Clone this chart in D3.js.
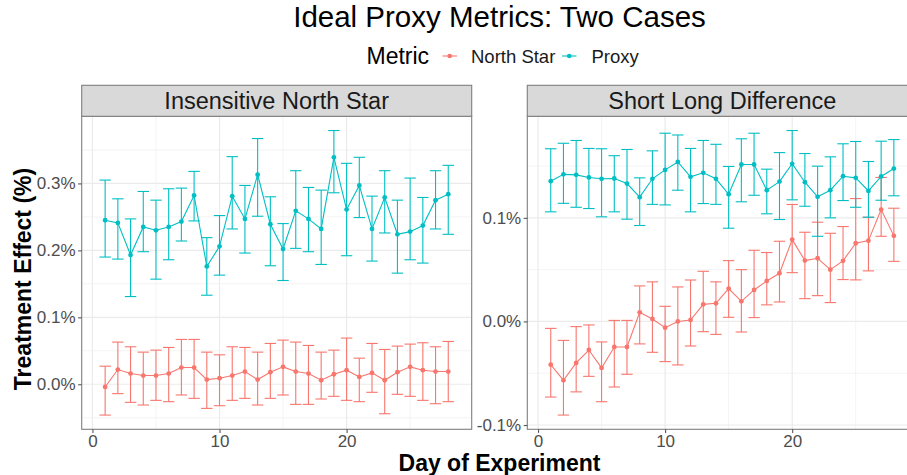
<!DOCTYPE html>
<html><head><meta charset="utf-8">
<script src="https://cdn.jsdelivr.net/npm/d3@7"></script>
<style>
html,body{margin:0;padding:0;background:#fff;}
svg{display:block;overflow:hidden;font-family:"Liberation Sans",Arial,Helvetica,sans-serif;}
</style></head>
<body><svg id="chart" width="907" height="475"></svg>
<script>
const days = [1,2,3,4,5,6,7,8,9,10,11,12,13,14,15,16,17,18,19,20,21,22,23,24,25,26,27,28];
const seriesNames = ["North Star","Proxy"];
const panelTitles = ["Insensitive North Star","Short Long Difference"];

const leftProxy   = [0.245,0.241,0.193,0.235,0.230,0.235,0.243,0.282,0.176,0.206,0.281,0.247,0.313,0.239,0.202,0.259,0.247,0.232,0.339,0.261,0.297,0.232,0.279,0.224,0.228,0.237,0.275,0.284];
const leftProxyLo = [0.190,0.187,0.131,0.198,0.157,0.186,0.214,0.244,0.133,0.163,0.232,0.196,0.251,0.177,0.155,0.203,0.198,0.179,0.286,0.192,0.249,0.184,0.226,0.166,0.186,0.181,0.232,0.224];
const leftProxyHi = [0.305,0.277,0.247,0.288,0.275,0.292,0.293,0.318,0.219,0.252,0.340,0.297,0.367,0.280,0.240,0.319,0.294,0.290,0.379,0.330,0.339,0.281,0.319,0.275,0.308,0.279,0.319,0.327];

const leftNS   = [-0.004,0.022,0.016,0.013,0.013,0.016,0.025,0.025,0.007,0.009,0.013,0.019,0.007,0.018,0.026,0.019,0.016,0.006,0.015,0.021,0.011,0.017,0.006,0.018,0.026,0.021,0.019,0.019];
const leftNSLo = [-0.046,-0.014,-0.027,-0.031,-0.024,-0.026,-0.016,-0.021,-0.036,-0.032,-0.024,-0.021,-0.031,-0.021,-0.016,-0.030,-0.030,-0.022,-0.018,-0.024,-0.026,-0.012,-0.044,-0.015,-0.018,-0.024,-0.029,-0.026];
const leftNSHi = [0.027,0.063,0.056,0.048,0.051,0.055,0.067,0.067,0.048,0.044,0.056,0.055,0.048,0.061,0.066,0.063,0.058,0.048,0.051,0.069,0.039,0.061,0.052,0.057,0.060,0.062,0.056,0.064];

const rightProxy   = [0.1354,0.142,0.1415,0.139,0.1377,0.138,0.1331,0.120,0.1377,0.1463,0.154,0.1396,0.1435,0.1377,0.1228,0.1515,0.1515,0.1267,0.135,0.1522,0.1344,0.1203,0.1267,0.1402,0.1386,0.126,0.140,0.1476];
const rightProxyLo = [0.1058,0.114,0.1102,0.109,0.101,0.1058,0.0987,0.0926,0.113,0.1125,0.1267,0.1058,0.1138,0.113,0.090,0.1155,0.1218,0.1039,0.0984,0.1174,0.1112,0.0822,0.100,0.1167,0.1102,0.1006,0.117,0.1213];
const rightProxyHi = [0.1667,0.172,0.1747,0.167,0.1667,0.160,0.166,0.1386,0.1647,0.1817,0.180,0.167,0.1747,0.171,0.1496,0.1763,0.1817,0.147,0.163,0.1843,0.1621,0.1499,0.1589,0.1715,0.1737,0.1544,0.174,0.1756];

const rightNS   = [-0.0417,-0.0569,-0.0401,-0.0276,-0.0449,-0.0247,-0.0247,0.0088,0.0024,-0.006,0.0,0.0014,0.0165,0.0175,0.0317,0.0194,0.0304,0.0391,0.0465,0.079,0.0588,0.061,0.050,0.0585,0.0755,0.078,0.108,0.0826];
const rightNSLo = [-0.073,-0.0904,-0.068,-0.053,-0.0775,-0.0633,-0.051,-0.0217,-0.0298,-0.0388,-0.042,-0.0237,-0.0099,-0.0125,0.004,-0.0102,0.0037,0.016,0.0188,0.0471,0.022,0.0249,0.0182,0.0404,0.0401,0.0488,0.0822,0.058];
const rightNSHi = [-0.0067,-0.0183,-0.005,-0.0034,-0.0198,0.001,0.001,0.0343,0.0382,0.0146,0.0333,0.040,0.0484,0.0382,0.0587,0.05,0.0687,0.0665,0.0774,0.1129,0.0861,0.0958,0.0851,0.0916,0.1186,0.1006,0.139,0.1093];

const xTicks = [0,10,20];
const xMinor = [5,15,25];
const leftYTicks = [0.0,0.1,0.2,0.3];
const leftYMinor = [-0.05,0.05,0.15,0.25,0.35];
const rightYTicks = [-0.1,0.0,0.1];
const rightYMinor = [-0.05,0.05,0.15];

const colors = {"North Star":"#F8766D","Proxy":"#00BFC4"};

const panels = [
  {title:panelTitles[0], x0:81.7, yTicks:leftYTicks, yMinor:leftYMinor,
   series:[{name:"North Star",v:leftNS,lo:leftNSLo,hi:leftNSHi},{name:"Proxy",v:leftProxy,lo:leftProxyLo,hi:leftProxyHi}]},
  {title:panelTitles[1], x0:527.3, yTicks:rightYTicks, yMinor:rightYMinor,
   series:[{name:"North Star",v:rightNS,lo:rightNSLo,hi:rightNSHi},{name:"Proxy",v:rightProxy,lo:rightProxyLo,hi:rightProxyHi}]}
];

const svg = d3.select("#chart");
const PW = 390, pTop = 116.3, pBottom = 429.3, stripTop = 85.3;
const capW = 0.9;

svg.append("text").attr("x",499.5).attr("y",27).attr("text-anchor","middle")
  .attr("font-size",29.5).attr("fill","#000").text("Ideal Proxy Metrics: Two Cases");

const lg = svg.append("g");
lg.append("text").attr("x",366.5).attr("y",64).attr("font-size",23).attr("fill","#000").text("Metric");
const legendItems = [{name:seriesNames[0],kx:442.5,tx:471},{name:seriesNames[1],kx:562,tx:591.5}];
legendItems.forEach(it=>{
  lg.append("line").attr("x1",it.kx).attr("x2",it.kx+14.5).attr("y1",56).attr("y2",56)
    .attr("stroke",colors[it.name]).attr("stroke-width",1.1);
  lg.append("circle").attr("cx",it.kx+7.2).attr("cy",56).attr("r",2.3).attr("fill",colors[it.name]);
  lg.append("text").attr("x",it.tx).attr("y",62.5).attr("font-size",18.5).attr("fill","#1a1a1a").text(it.name);
});

panels.forEach(p=>{
  const x = d3.scaleLinear().domain([1-capW/2 - 0.05*(27+capW), 28+capW/2 + 0.05*(27+capW)]).range([p.x0, p.x0+PW]);
  const allLo = d3.min(p.series, s=>d3.min(s.lo));
  const allHi = d3.max(p.series, s=>d3.max(s.hi));
  const pad = 0.05*(allHi-allLo);
  const y = d3.scaleLinear().domain([allLo-pad, allHi+pad]).range([pBottom, pTop]);

  const g = svg.append("g");
  g.append("rect").attr("x",p.x0).attr("y",pTop).attr("width",PW).attr("height",pBottom-pTop).attr("fill","#fff");
  p.yMinor.forEach(v=>{ g.append("line").attr("x1",p.x0).attr("x2",p.x0+PW).attr("y1",y(v)).attr("y2",y(v)).attr("stroke","#EBEBEB").attr("stroke-width",0.6); });
  xMinor.forEach(v=>{ g.append("line").attr("x1",x(v)).attr("x2",x(v)).attr("y1",pTop).attr("y2",pBottom).attr("stroke","#EBEBEB").attr("stroke-width",0.6); });
  p.yTicks.forEach(v=>{ g.append("line").attr("x1",p.x0).attr("x2",p.x0+PW).attr("y1",y(v)).attr("y2",y(v)).attr("stroke","#EBEBEB").attr("stroke-width",1.2); });
  xTicks.forEach(v=>{ g.append("line").attr("x1",x(v)).attr("x2",x(v)).attr("y1",pTop).attr("y2",pBottom).attr("stroke","#EBEBEB").attr("stroke-width",1.2); });

  p.series.forEach(s=>{
    const c = colors[s.name];
    const pts = days.map((d,i)=>({d, v:s.v[i], lo:s.lo[i], hi:s.hi[i]}));
    g.append("path").datum(pts).attr("fill","none").attr("stroke",c).attr("stroke-width",1.1)
      .attr("d", d3.line().x(d=>x(d.d)).y(d=>y(d.v)));
    const eb = g.append("g").attr("stroke",c).attr("stroke-width",1.1).attr("fill","none");
    pts.forEach(d=>{
      eb.append("line").attr("x1",x(d.d)).attr("x2",x(d.d)).attr("y1",y(d.lo)).attr("y2",y(d.hi));
      eb.append("line").attr("x1",x(d.d-capW/2)).attr("x2",x(d.d+capW/2)).attr("y1",y(d.lo)).attr("y2",y(d.lo));
      eb.append("line").attr("x1",x(d.d-capW/2)).attr("x2",x(d.d+capW/2)).attr("y1",y(d.hi)).attr("y2",y(d.hi));
    });
    g.selectAll(null).data(pts).enter().append("circle")
      .attr("cx",d=>x(d.d)).attr("cy",d=>y(d.v)).attr("r",2.4).attr("fill",c);
  });

  g.append("rect").attr("x",p.x0).attr("y",pTop).attr("width",PW).attr("height",pBottom-pTop)
    .attr("fill","none").attr("stroke","#7F7F7F").attr("stroke-width",1.1);
  g.append("rect").attr("x",p.x0).attr("y",stripTop).attr("width",PW).attr("height",pTop-stripTop)
    .attr("fill","#D9D9D9").attr("stroke","#7F7F7F").attr("stroke-width",1.1);
  g.append("text").attr("x",p.x0+PW/2).attr("y",(stripTop+pTop)/2+8.4).attr("text-anchor","middle")
    .attr("font-size",23.5).attr("fill","#1a1a1a").text(p.title);

  const ya = g.append("g").attr("transform",`translate(${p.x0},0)`)
    .call(d3.axisLeft(y).tickValues(p.yTicks).tickSize(3.6).tickPadding(2.5).tickFormat(v=>v.toFixed(1)+"%"));
  ya.select(".domain").remove();
  ya.selectAll("line").attr("stroke","#555").attr("stroke-width",1.1);
  ya.selectAll("text").attr("font-size",17).attr("fill","#4D4D4D").attr("font-family",null);

  const xa = g.append("g").attr("transform",`translate(0,${pBottom})`)
    .call(d3.axisBottom(x).tickValues(xTicks).tickSize(3.6).tickPadding(2).tickFormat(d3.format("d")));
  xa.select(".domain").remove();
  xa.selectAll("line").attr("stroke","#555").attr("stroke-width",1.1);
  xa.selectAll("text").attr("font-size",17).attr("fill","#4D4D4D").attr("font-family",null);
});

svg.append("text").attr("x",499.5).attr("y",471).attr("text-anchor","middle")
  .attr("font-size",23).attr("font-weight","bold").attr("fill","#000").text("Day of Experiment");
svg.append("text").attr("transform","translate(30.5,279) rotate(-90)").attr("text-anchor","middle")
  .attr("font-size",23).attr("font-weight","bold").attr("fill","#000").text("Treatment Effect (%)");
</script></body></html>
